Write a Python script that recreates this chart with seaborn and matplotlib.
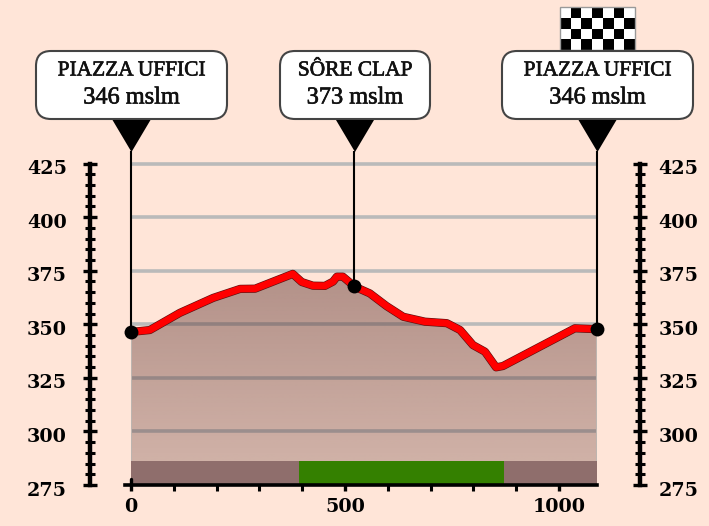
import numpy as np
import pandas as pd
import matplotlib
matplotlib.use('Agg')
import matplotlib.pyplot as plt
import matplotlib.patheffects as pe
import matplotlib.transforms as mtrans
from matplotlib.patches import FancyBboxPatch, Polygon, Rectangle
from matplotlib.colors import ListedColormap
import seaborn as sns

# route profile
distance = [0, 44, 114, 192, 255, 290, 378, 399, 425, 453, 472, 481, 495, 523, 558, 597,
            636, 687, 738, 769, 799, 827, 853, 869, 1037, 1089]
altitude = [346.4, 347.3, 355.3, 362.3, 366.5, 366.6, 373.5, 369.7, 368, 367.9, 369.9, 372.2,
            372.2, 367.5, 364.4, 358.5, 353.5, 351.2, 350.5, 347.3, 340.3, 337.2, 329.9,
            330.5, 348.1, 347.7]

pin_x = [0, 520, 1089]
pin_y = [346.4, 367.9, 347.7]
pin_names = ['PIAZZA UFFICI', 'SÔRE CLAP', 'PIAZZA UFFICI']
pin_alts = ['346 mslm', '373 mslm', '346 mslm']

# road surface strip along the bottom
strip_edges = [0, 392, 871, 1090]
strip_colors = ['#8f6e6c', '#348000', '#8f6e6c']

y_ticks = [275, 300, 325, 350, 375, 400, 425]
x_ticks = [0, 500, 1000]

flag = [[0, 1, 0, 1, 0, 1, 0],
        [1, 0, 1, 0, 1, 0, 1],
        [0, 1, 0, 1, 0, 1, 0],
        [1, 0, 1, 0, 1, 0, 1]]

BG = '#ffe5d8'
W, H = 709, 526
SERIF = 'Liberation Serif'
BOLD = 'DejaVu Serif'

sns.set_theme(style='white')
plt.rcParams['font.family'] = [BOLD]
plt.rcParams['axes.facecolor'] = BG
plt.rcParams['figure.facecolor'] = BG

df = pd.DataFrame({'distance': distance, 'altitude': altitude})

fig = plt.figure(figsize=(W / 100, H / 100), dpi=100)
ax = fig.add_axes([131 / W, (H - 485) / H, 466.5 / W, 321.5 / H])
ax.set_xlim(0, 1090)
ax.set_ylim(275, 425)

ax.set_yticks(y_ticks)
ax.grid(False)
# drawn by hand so the top line is not cut in half by the axes edge
ax.hlines(y_ticks[1:], 0, 1090, color='#bababa', lw=2.6, zorder=1, clip_on=False)

# area under the profile, darker towards the top
poly_xy = [(0, 275)] + list(zip(distance, altitude)) + [(1090, altitude[-1]), (1090, 275)]
clip = Polygon(poly_xy, closed=True, transform=ax.transData, fc='none', ec='none')
ax.add_patch(clip)
grad = np.zeros((256, 1, 4))
grad[..., 0] = 88 / 255
grad[..., 1] = 45 / 255
grad[..., 2] = 42 / 255
grad[:, 0, 3] = np.linspace(0.46, 0.26, 256)
im = ax.imshow(grad, extent=[0, 1090, 275, 374], origin='upper', aspect='auto', zorder=2)
im.set_clip_path(clip)

# side edges of the area
ax.vlines([0, 1090], 275, [altitude[0], altitude[-1]], color='#bdb5b0', lw=1.5, zorder=2.5)

for i, c in enumerate(strip_colors):
    ax.add_patch(Rectangle((strip_edges[i], 275.5), strip_edges[i + 1] - strip_edges[i], 10.7,
                           fc=c, ec='none', zorder=3))

ax.vlines(pin_x, pin_y, 431, color='black', lw=1.5, zorder=6, clip_on=False)

sns.lineplot(data=df, x='distance', y='altitude', ax=ax, sort=False, estimator=None,
             color='#ff0000', lw=5, zorder=5, clip_on=False,
             path_effects=[pe.Stroke(linewidth=5.9, foreground='#5a1010'), pe.Normal()])
ax.lines[-1].set_solid_joinstyle('round')
ax.scatter(pin_x, pin_y, s=100, color='black', zorder=7, clip_on=False, linewidths=0)

ax.set_xlim(0, 1090)
ax.set_ylim(275, 425)
ax.set_xlabel('')
ax.set_ylabel('')

# axes
for s in ['top', 'right']:
    ax.spines[s].set_visible(False)
ax.spines['left'].set_position(('outward', 41 * 0.72))
ax.spines['left'].set_linewidth(3.2)
ax.spines['left'].set_color('black')
ax.spines['bottom'].set_linewidth(2.6)
ax.spines['bottom'].set_color('black')
ax.spines['bottom'].set_bounds(-14, 1090)
ax.spines['bottom'].set_zorder(8)

ax.set_xticks(x_ticks)
ax.set_xticks(np.arange(0, 1001, 100), minor=True)
ax.tick_params(axis='x', which='major', direction='out', length=4, width=2.4, color='black', pad=5,
               labelsize=13.8, labelcolor='black')
ax.tick_params(axis='x', which='minor', direction='out', length=4, width=2.2, color='black')
ax.plot([0, 0], [275, 278], color='black', lw=2.4, clip_on=False, zorder=8)

ax.set_yticks(np.arange(275, 426, 5), minor=True)
ax.tick_params(axis='y', which='major', direction='inout', length=9.4, width=2.4, color='black', pad=12,
               labelsize=13.8, labelcolor='black')
ax.tick_params(axis='y', which='minor', direction='inout', length=7.2, width=2.2, color='black')
ax.tick_params(axis='both', which='both', left=True, bottom=True)

ax2 = ax.twinx()
ax2.set_ylim(275, 425)
ax2.set_yticks(y_ticks)
ax2.set_yticks(np.arange(275, 426, 5), minor=True)
ax2.grid(False)
ax2.patch.set_visible(False)
for s in ['top', 'left', 'bottom']:
    ax2.spines[s].set_visible(False)
ax2.spines['right'].set_position(('outward', 42.5 * 0.72))
ax2.spines['right'].set_linewidth(3.2)
ax2.spines['right'].set_color('black')
ax2.tick_params(axis='y', which='major', direction='inout', length=9.4, width=2.4, color='black', pad=8.5,
                labelsize=13.8, labelcolor='black', right=True)
ax2.tick_params(axis='y', which='minor', direction='inout', length=7.2, width=2.2, color='black', right=True)

shift = mtrans.ScaledTranslation(0, -3.5 / 100, fig.dpi_scale_trans)
for lab in ax.get_yticklabels() + ax2.get_yticklabels():
    lab.set_transform(lab.get_transform() + shift)
    lab.set_fontweight('bold')
for lab in ax.get_xticklabels():
    lab.set_fontweight('bold')

# pixel overlay for the signs above the chart
ov = fig.add_axes([0, 0, 1, 1], zorder=10)
ov.set_xlim(0, W)
ov.set_ylim(H, 0)
ov.axis('off')
ov.patch.set_visible(False)

heavier = [pe.withStroke(linewidth=0.45, foreground='#111111')]
boxes = [(36, 227), (280, 430), (502, 693)]
pin_px = [131.5, 355, 597.5]
for (x0, x1), px, name, alt in zip(boxes, pin_px, pin_names, pin_alts):
    ov.add_patch(FancyBboxPatch((x0, 51), x1 - x0, 68, boxstyle='round,pad=0,rounding_size=15',
                                fc='white', ec='#444444', lw=1.5))
    ov.add_patch(Polygon([(px - 19, 120), (px + 19, 120), (px, 152)], closed=True, fc='black', ec='none'))
    cx = (x0 + x1) / 2
    ov.text(cx, 71, name, ha='center', va='center', fontsize=15.4, color='#111111', family=SERIF,
            path_effects=heavier)
    ov.text(cx, 98, alt, ha='center', va='center', fontsize=17.5, color='#111111', family=SERIF,
            path_effects=heavier)

# chequered flag
axf = fig.add_axes([560 / W, (H - 50) / H, 75 / W, 43 / H], zorder=9)
sns.heatmap(flag, ax=axf, cmap=ListedColormap(['white', 'black']), cbar=False,
            xticklabels=False, yticklabels=False, linewidths=0, rasterized=True)
axf.add_patch(Rectangle((0, 0), 7, 4, fc='none', ec='#999999', lw=1, clip_on=False))

fig.savefig('out.png', dpi=100, facecolor=BG)
